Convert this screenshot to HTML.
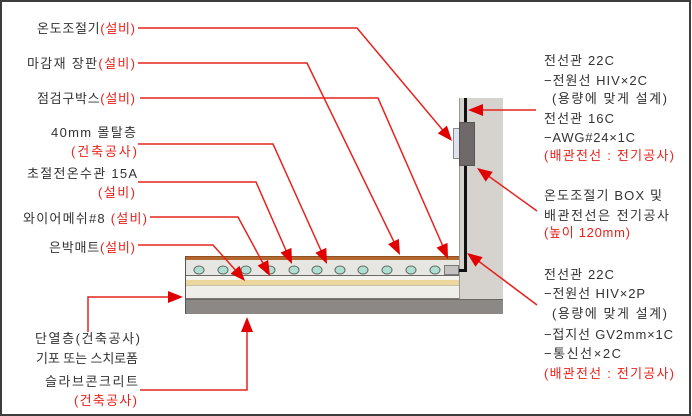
<!DOCTYPE html>
<html>
<head>
<meta charset="utf-8">
<style>
html,body{margin:0;padding:0;background:#fff;}
svg{display:block;}
text{font-family:"Liberation Sans","Noto Sans CJK KR","NanumGothic",sans-serif;font-size:13px;fill:#333;}
.r{fill:#e8231b;}
</style>
</head>
<body>
<svg width="692" height="416" viewBox="0 0 692 416" xmlns="http://www.w3.org/2000/svg">
  <rect x="1" y="1" width="689" height="414" fill="#fff" stroke="#3d3d3d" stroke-width="2"/>

  <!-- Wall -->
  <rect x="459" y="98" width="44" height="202" fill="#d6d3cf"/>
  <line x1="459.5" y1="98" x2="459.5" y2="300" stroke="#9a9794" stroke-width="1"/>

  <!-- Floor layers -->
  <rect x="185" y="256" width="274" height="4" fill="#b5682e"/>
  <rect x="185" y="256" width="274" height="1" fill="#8f4f22"/>
  <rect x="185" y="260" width="274" height="15" fill="#e6e6e3"/>
  <rect x="185" y="275" width="274" height="1" fill="#6a6a6a"/>
  <rect x="185" y="276" width="274" height="4" fill="#f3f2ec"/>
  <rect x="185" y="280" width="274" height="5" fill="#ebd79e"/>
  <rect x="185" y="285" width="274" height="1" fill="#c9c2ab"/>
  <rect x="185" y="286" width="274" height="12" fill="#efeee8"/>
  <rect x="185" y="298" width="274" height="1" fill="#7a7775"/>
  <rect x="185" y="299" width="318" height="15" fill="#8c8886"/>
  <rect x="185" y="299" width="318" height="1" fill="#6c6866"/>
  <line x1="185.5" y1="256" x2="185.5" y2="314" stroke="#555" stroke-width="1"/>

  <!-- Pipes -->
  <g fill="#ade0d1" stroke="#666" stroke-width="1">
    <ellipse cx="199" cy="270" rx="5" ry="4"/>
    <ellipse cx="223" cy="270" rx="5" ry="4"/>
    <ellipse cx="246" cy="270" rx="5" ry="4"/>
    <ellipse cx="270" cy="270" rx="5" ry="4"/>
    <ellipse cx="294" cy="270" rx="5" ry="4"/>
    <ellipse cx="317" cy="270" rx="5" ry="4"/>
    <ellipse cx="340" cy="270" rx="5" ry="4"/>
    <ellipse cx="363" cy="270" rx="5" ry="4"/>
    <ellipse cx="387" cy="270" rx="5" ry="4"/>
    <ellipse cx="411" cy="270" rx="5" ry="4"/>
    <ellipse cx="435" cy="270" rx="5" ry="4"/>
  </g>
  <!-- inspection box -->
  <rect x="444.5" y="265.5" width="14" height="9" fill="#c4c2c0" stroke="#7a7a7a" stroke-width="1"/>

  <!-- Conduit black line -->
  <rect x="464" y="98" width="3" height="174" fill="#111"/>
  <rect x="459" y="269" width="8" height="3" fill="#111"/>

  <!-- Thermostat box -->
  <rect x="453.5" y="128.5" width="6" height="30" fill="#dfe2ef" stroke="#8a8a8a" stroke-width="1"/>
  <rect x="459.5" y="122.5" width="15" height="43" fill="#6f6a69" stroke="#555" stroke-width="1"/>

  <!-- Red leader lines -->
  <g fill="none" stroke="#e6231e" stroke-width="1.5">
    <polyline points="138,28 357,28 446,134"/>
    <polyline points="138,63 307,63 396,246"/>
    <polyline points="140,98 378,98 445,251"/>
    <polyline points="138,144 273,144 323,255"/>
    <polyline points="138,182 256,182 288,255"/>
    <polyline points="150,217 238,217 265,267"/>
    <polyline points="138,245 213,245 238,273"/>
    <polyline points="88,332 88,297 170,297"/>
    <polyline points="140,390 247,390 247,330"/>
    <polyline points="536,110 480,110"/>
    <polyline points="537,211 487,175"/>
    <polyline points="537,305 477,260"/>
  </g>
  <!-- Arrowheads -->
  <g fill="#e00000">
    <polygon points="452,141 437.76,133.38 446.94,125.66"/>
    <polygon points="400,255 388.06,244.12 398.86,238.88"/>
    <polygon points="448,259 436.52,247.64 447.52,242.86"/>
    <polygon points="327,264 315.38,252.78 326.32,247.86"/>
    <polygon points="292,264 280.48,252.68 291.46,247.86"/>
    <polygon points="270,276 257.57,265.67 268.13,259.95"/>
    <polygon points="245,281 230.56,273.78 239.52,265.82"/>
    <polygon points="183,297 168,291 168,303"/>
    <polygon points="247,317 241,332 253,332"/>
    <polygon points="468,110 483,104 483,116"/>
    <polygon points="477,168 492.7,171.86 485.7,181.62"/>
    <polygon points="467,253 482.62,257.12 475.46,266.76"/>
  </g>

  <!-- Left labels -->
  <text x="135" y="33" text-anchor="end" textLength="98" lengthAdjust="spacing">온도조절기<tspan class="r">(설비)</tspan></text>
  <text x="135" y="68" text-anchor="end" textLength="108" lengthAdjust="spacing">마감재 장판<tspan class="r">(설비)</tspan></text>
  <text x="135" y="103" text-anchor="end" textLength="98" lengthAdjust="spacing">점검구박스<tspan class="r">(설비)</tspan></text>
  <text x="136" y="137" text-anchor="end" textLength="85" lengthAdjust="spacing">40mm 몰탈층</text>
  <text x="137" y="156" text-anchor="end" class="r" textLength="66" lengthAdjust="spacing">(건축공사)</text>
  <text x="137" y="178" text-anchor="end" textLength="110" lengthAdjust="spacing">초절전온수관 15A</text>
  <text x="135" y="197" text-anchor="end" class="r" textLength="37" lengthAdjust="spacing">(설비)</text>
  <text x="147" y="223" text-anchor="end" textLength="124" lengthAdjust="spacing">와이어메쉬#8 <tspan class="r">(설비)</tspan></text>
  <text x="135" y="252" text-anchor="end" textLength="86" lengthAdjust="spacing">은박매트<tspan class="r">(설비)</tspan></text>
  <text x="140" y="343" text-anchor="end" textLength="105" lengthAdjust="spacing">단열층(건축공사)</text>
  <text x="138" y="363" text-anchor="end" textLength="102" lengthAdjust="spacing">기포 또는 스치로폼</text>
  <text x="138" y="386" text-anchor="end" textLength="93" lengthAdjust="spacing">슬라브콘크리트</text>
  <text x="137" y="405" text-anchor="end" class="r" textLength="63" lengthAdjust="spacing">(건축공사)</text>

  <!-- Right labels top -->
  <text x="544" y="65" textLength="70" lengthAdjust="spacing">전선관 22C</text>
  <text x="544" y="85" textLength="103" lengthAdjust="spacing">−전원선 HIV×2C</text>
  <text x="552" y="103" textLength="115" lengthAdjust="spacing">(용량에 맞게 설계)</text>
  <text x="544" y="123" textLength="70" lengthAdjust="spacing">전선관 16C</text>
  <text x="544" y="142" textLength="91" lengthAdjust="spacing">−AWG#24×1C</text>
  <text x="544" y="160" class="r" textLength="130" lengthAdjust="spacing">(배관전선 : 전기공사)</text>

  <text x="544" y="200" textLength="118" lengthAdjust="spacing">온도조절기 BOX 및</text>
  <text x="544" y="220" textLength="125" lengthAdjust="spacing">배관전선은 전기공사</text>
  <text x="544" y="237" class="r" textLength="86" lengthAdjust="spacing">(높이 120mm)</text>

  <!-- Right labels bottom -->
  <text x="544" y="279" textLength="70" lengthAdjust="spacing">전선관 22C</text>
  <text x="544" y="298" textLength="101" lengthAdjust="spacing">−전원선 HIV×2P</text>
  <text x="552" y="318" textLength="115" lengthAdjust="spacing">(용량에 맞게 설계)</text>
  <text x="544" y="339" textLength="129" lengthAdjust="spacing">−접지선 GV2mm×1C</text>
  <text x="544" y="358" textLength="77" lengthAdjust="spacing">−통신선×2C</text>
  <text x="544" y="378" class="r" textLength="130" lengthAdjust="spacing">(배관전선 : 전기공사)</text>
</svg>
</body>
</html>
